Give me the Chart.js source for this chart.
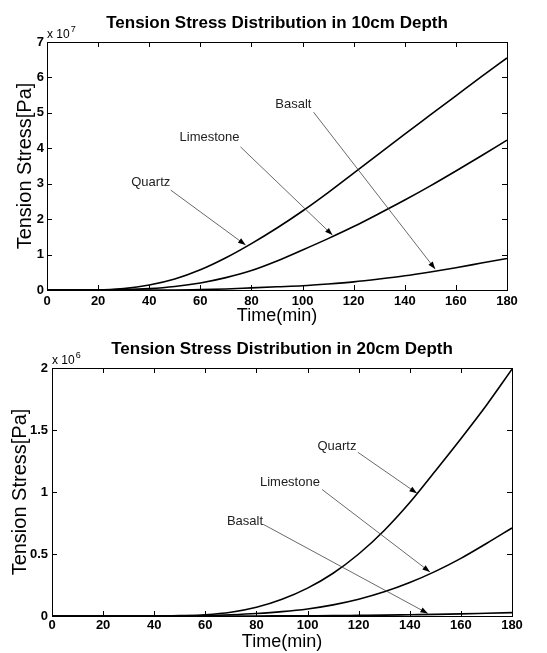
<!DOCTYPE html>
<html>
<head>
<meta charset="utf-8">
<script src="https://cdn.jsdelivr.net/npm/chart.js@4/dist/chart.umd.min.js"></script>
<style>
    html, body { margin: 0; padding: 0; background: #fff; }
    #wrap1 { position: absolute; left: 0; top: 0; width: 547px; height: 330px; }
    #wrap2 { position: absolute; left: 0; top: 330px; width: 547px; height: 323px; }
</style>
</head>
<body>
<div id="wrap1"><canvas id="chart10"></canvas></div>
<div id="wrap2"><canvas id="chart20"></canvas></div>
<script>
// time axis (min)
const timeMin = [0, 10, 20, 30, 40, 50, 60, 70, 80, 90, 100, 110, 120, 130, 140, 150, 160, 170, 180];
const xTicks = [0, 20, 40, 60, 80, 100, 120, 140, 160, 180];

// 10 cm depth, values in units of 1e7 Pa
const quartz10    = [0, 0, 0, 0.04, 0.14, 0.31, 0.57, 0.91, 1.31, 1.75, 2.23, 2.75, 3.30, 3.85, 4.40, 4.94, 5.48, 6.02, 6.55];
const limestone10 = [0, 0, 0, 0.01, 0.04, 0.10, 0.20, 0.35, 0.55, 0.82, 1.13, 1.45, 1.79, 2.16, 2.54, 2.94, 3.36, 3.79, 4.23];
const basalt10    = [0, 0, 0, 0, 0, 0, 0.01, 0.03, 0.06, 0.09, 0.12, 0.17, 0.23, 0.31, 0.40, 0.51, 0.63, 0.76, 0.89];
const yTicks10 = [0, 1, 2, 3, 4, 5, 6, 7];
const exp10 = 7;

// 20 cm depth, values in units of 1e6 Pa
const quartz20    = [0, 0, 0, 0, 0, 0.003, 0.01, 0.03, 0.07, 0.135, 0.225, 0.345, 0.50, 0.69, 0.915, 1.17, 1.43, 1.70, 1.99];
const limestone20 = [0, 0, 0, 0, 0, 0, 0.003, 0.01, 0.02, 0.035, 0.057, 0.09, 0.135, 0.195, 0.27, 0.36, 0.465, 0.585, 0.71];
const basalt20    = [0, 0, 0, 0, 0, 0, 0, 0, 0, 0.001, 0.002, 0.003, 0.005, 0.007, 0.01, 0.013, 0.017, 0.022, 0.027];
const yTicks20 = [0, 0.5, 1, 1.5, 2];
const exp20 = 6;

// arrow labels: text position and arrow start/end, in data units
const notes10 = [
    { text: 'Quartz',    at: [40.6, 3.05], from: [48.4, 2.82], to: [77.7, 1.27] },
    { text: 'Limestone', at: [63.6, 4.32], from: [75.7, 4.04], to: [111.7, 1.55] },
    { text: 'Basalt',    at: [96.4, 5.25], from: [104.3, 5.02], to: [151.9, 0.59] }
];
const notes20 = [
    { text: 'Quartz',    at: [111.5, 1.37], from: [119.7, 1.32], to: [142.8, 0.99] },
    { text: 'Limestone', at: [93.1, 1.08],  from: [105.7, 1.02], to: [147.9, 0.355] },
    { text: 'Basalt',    at: [75.5, 0.76],  from: [82.6, 0.74],  to: [147.1, 0.02] }
];

const FONT = 'Arial, "Liberation Sans", Helvetica, sans-serif';

// title, box around the plot area, inward tick marks and exponent label
const boxPlugin = {
    id: 'box',
    afterDatasetsDraw(chart) {
        const { ctx, chartArea: a, scales: { x, y } } = chart;
        const opts = chart.options.plugins.box;
        ctx.save();
        ctx.strokeStyle = '#000';
        ctx.lineWidth = 1;
        ctx.strokeRect(a.left + 0.5, a.top + 0.5, a.right - a.left, a.bottom - a.top);
        ctx.beginPath();
        x.ticks.forEach(t => {
            const px = Math.round(x.getPixelForValue(t.value)) + 0.5;
            ctx.moveTo(px, a.bottom); ctx.lineTo(px, a.bottom - 5);
            ctx.moveTo(px, a.top); ctx.lineTo(px, a.top + 5);
        });
        y.ticks.forEach(t => {
            const py = Math.round(y.getPixelForValue(t.value)) + 0.5;
            ctx.moveTo(a.left, py); ctx.lineTo(a.left + 5, py);
            ctx.moveTo(a.right, py); ctx.lineTo(a.right - 5, py);
        });
        ctx.stroke();

        // title centred over the plot area
        ctx.fillStyle = '#000';
        ctx.textAlign = 'center';
        ctx.textBaseline = 'middle';
        ctx.font = 'bold 17px ' + FONT;
        ctx.fillText(opts.title, (a.left + a.right) / 2, opts.titleY);

        // exponent label above the y axis
        ctx.textBaseline = 'alphabetic';
        ctx.textAlign = 'left';
        ctx.font = '12px ' + FONT;
        const base = 'x 10';
        ctx.fillText(base, a.left, a.top - 4);
        const w = ctx.measureText(base).width;
        ctx.font = '9px ' + FONT;
        ctx.fillText(String(opts.exponent), a.left + w + 1, a.top - 10);
        ctx.restore();
    }
};

// text labels with arrows pointing at the curves
const notePlugin = {
    id: 'notes',
    afterDatasetsDraw(chart) {
        const { ctx, scales: { x, y } } = chart;
        const notes = chart.options.plugins.notes.items;
        ctx.save();
        notes.forEach(n => {
            const lx = x.getPixelForValue(n.at[0]), ly = y.getPixelForValue(n.at[1]);
            const x0 = x.getPixelForValue(n.from[0]), y0 = y.getPixelForValue(n.from[1]);
            const x1 = x.getPixelForValue(n.to[0]), y1 = y.getPixelForValue(n.to[1]);
            ctx.font = '13px ' + FONT;
            ctx.fillStyle = '#222';
            ctx.textAlign = 'center';
            ctx.textBaseline = 'middle';
            ctx.fillText(n.text, lx, ly);

            ctx.strokeStyle = '#444';
            ctx.lineWidth = 0.8;
            ctx.beginPath();
            ctx.moveTo(x0, y0);
            ctx.lineTo(x1, y1);
            ctx.stroke();

            const ang = Math.atan2(y1 - y0, x1 - x0);
            const len = 8, half = 0.35;
            ctx.fillStyle = '#000';
            ctx.beginPath();
            ctx.moveTo(x1, y1);
            ctx.lineTo(x1 - len * Math.cos(ang - half), y1 - len * Math.sin(ang - half));
            ctx.lineTo(x1 - len * Math.cos(ang + half), y1 - len * Math.sin(ang + half));
            ctx.closePath();
            ctx.fill();
        });
        ctx.restore();
    }
};

function makeSeries(name, values) {
    return {
        label: name,
        data: timeMin.map((t, i) => ({ x: t, y: values[i] })),
        borderColor: '#000',
        borderWidth: 1.6,
        pointRadius: 0,
        fill: false,
        cubicInterpolationMode: 'monotone'
    };
}

function renderChart(id, cfg) {
    const ctx = document.getElementById(id).getContext('2d');
    return new Chart(ctx, {
        type: 'line',
        data: { datasets: cfg.series },
        options: {
            responsive: true,
            maintainAspectRatio: false,
            animation: false,
            layout: { padding: { left: 0, right: cfg.padRight, top: cfg.padTop, bottom: 0 } },
            plugins: {
                legend: { display: false },
                tooltip: { enabled: false },
                title: { display: false },
                box: { exponent: cfg.exponent, title: cfg.title, titleY: cfg.titleY },
                notes: { items: cfg.notes }
            },
            scales: {
                x: {
                    type: 'linear',
                    min: 0,
                    max: 180,
                    afterBuildTicks: s => { s.ticks = xTicks.map(v => ({ value: v })); },
                    afterFit: s => { s.height = cfg.xAxisH; },
                    grid: { display: false, drawTicks: false },
                    border: { display: false },
                    ticks: { color: '#000', padding: cfg.xTickPad, maxRotation: 0, font: { family: FONT, size: 13, weight: 'bold' } },
                    title: { display: true, text: 'Time(min)', color: '#000', padding: { top: 0, bottom: cfg.xTitlePad }, font: { family: FONT, size: 18 } }
                },
                y: {
                    type: 'linear',
                    min: cfg.yTicks[0],
                    max: cfg.yTicks[cfg.yTicks.length - 1],
                    afterBuildTicks: s => { s.ticks = cfg.yTicks.map(v => ({ value: v })); },
                    afterFit: s => { s.width = cfg.yAxisW; },
                    grid: { display: false, drawTicks: false },
                    border: { display: false },
                    ticks: {
                        color: '#000',
                        padding: cfg.yTickPad,
                        font: { family: FONT, size: 13, weight: 'bold' },
                        callback: v => String(v)
                    },
                    title: { display: true, text: 'Tension Stress[Pa]', color: '#000', padding: { top: cfg.yTitlePad, bottom: 0 }, font: { family: FONT, size: 20 } }
                }
            }
        },
        plugins: [boxPlugin, notePlugin]
    });
}

renderChart('chart10', {
    title: 'Tension Stress Distribution in 10cm Depth',
    titleY: 23,
    series: [makeSeries('Quartz', quartz10), makeSeries('Limestone', limestone10), makeSeries('Basalt', basalt10)],
    yTicks: yTicks10,
    exponent: exp10,
    notes: notes10,
    padRight: 40,
    padTop: 42,
    xAxisH: 40,
    xTickPad: 4,
    xTitlePad: 3,
    yAxisW: 47,
    yTickPad: 3,
    yTitlePad: 13
});

renderChart('chart20', {
    title: 'Tension Stress Distribution in 20cm Depth',
    titleY: 19,
    series: [makeSeries('Quartz', quartz20), makeSeries('Limestone', limestone20), makeSeries('Basalt', basalt20)],
    yTicks: yTicks20,
    exponent: exp20,
    notes: notes20,
    padRight: 35,
    padTop: 38,
    xAxisH: 37,
    xTickPad: 2,
    xTitlePad: 0,
    yAxisW: 52,
    yTickPad: 4,
    yTitlePad: 8
});
</script>
</body>
</html>
